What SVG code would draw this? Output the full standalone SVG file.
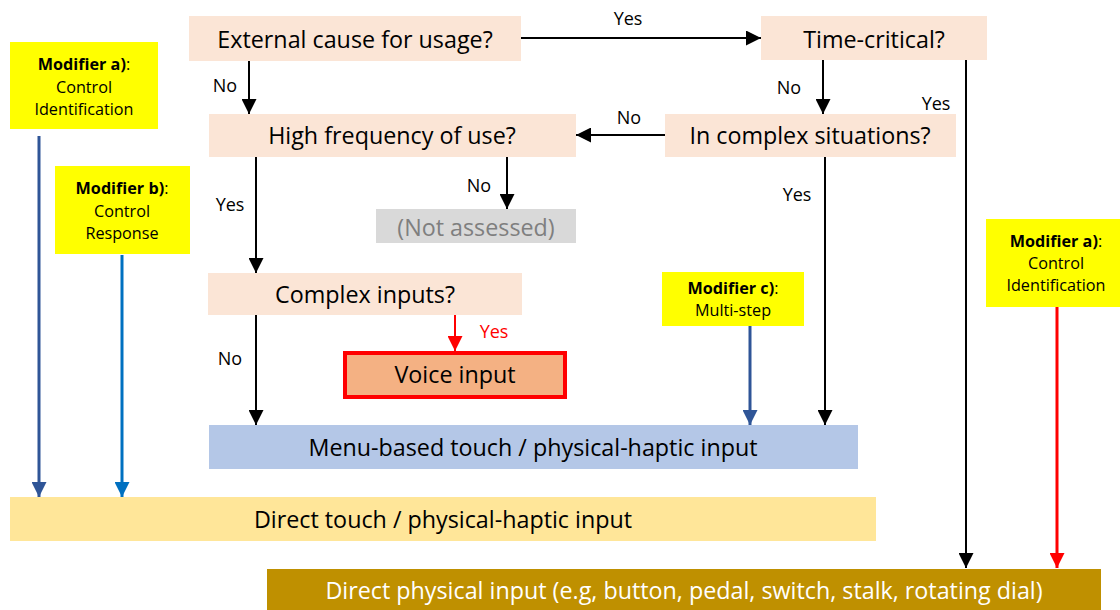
<svg xmlns="http://www.w3.org/2000/svg" width="1120" height="610" viewBox="0 0 1120 610">
<defs>
<style>
text{font-family:"Open Sans","Liberation Sans",sans-serif;fill:#000}
.q{fill:#FBE5D6}
.t{font-size:23.3px;text-anchor:middle}
.l{font-size:18px;text-anchor:middle}
.m{font-size:16.2px;text-anchor:middle}
.b{font-weight:bold}
.mod{fill:#FFFF00}
.k{stroke:#000;stroke-width:2;fill:none}
</style>
<marker id="ak" viewBox="0 0 10 10" refX="10" refY="5" markerWidth="15" markerHeight="15" markerUnits="userSpaceOnUse" orient="auto"><path d="M0,0L10,5L0,10z" fill="#000"/></marker>
<marker id="ar" viewBox="0 0 10 10" refX="10" refY="5" markerWidth="15" markerHeight="15" markerUnits="userSpaceOnUse" orient="auto"><path d="M0,0L10,5L0,10z" fill="#FF0000"/></marker>
<marker id="ad" viewBox="0 0 10 10" refX="10" refY="5" markerWidth="15" markerHeight="15" markerUnits="userSpaceOnUse" orient="auto"><path d="M0,0L10,5L0,10z" fill="#2F5597"/></marker>
<marker id="ab" viewBox="0 0 10 10" refX="10" refY="5" markerWidth="15" markerHeight="15" markerUnits="userSpaceOnUse" orient="auto"><path d="M0,0L10,5L0,10z" fill="#0070C0"/></marker>
</defs>
<rect width="1120" height="610" fill="#fff"/>

<g id="connectors">
<path class="k" d="M521,38H761" marker-end="url(#ak)"/>
<path class="k" d="M249,61V114" marker-end="url(#ak)"/>
<path class="k" d="M823,60V114" marker-end="url(#ak)"/>
<path class="k" d="M966,60V568" marker-end="url(#ak)"/>
<path class="k" d="M665,135H576" marker-end="url(#ak)"/>
<path class="k" d="M507,157V209" marker-end="url(#ak)"/>
<path class="k" d="M256,157V273" marker-end="url(#ak)"/>
<path class="k" d="M825,157V425" marker-end="url(#ak)"/>
<path class="k" d="M256,315V425" marker-end="url(#ak)"/>
<path d="M455,315V351" stroke="#FF0000" stroke-width="2" fill="none" marker-end="url(#ar)"/>
<path d="M39,136V497" stroke="#2F5597" stroke-width="3" fill="none" marker-end="url(#ad)"/>
<path d="M122,255V497" stroke="#0070C0" stroke-width="3" fill="none" marker-end="url(#ab)"/>
<path d="M750,326V425" stroke="#2F5597" stroke-width="3" fill="none" marker-end="url(#ad)"/>
<path d="M1057,307V568" stroke="#FF0000" stroke-width="3" fill="none" marker-end="url(#ar)"/>
<text class="l" x="628" y="25">Yes</text>
<text class="l" x="225" y="92">No</text>
<text class="l" x="789" y="94">No</text>
<text class="l" x="936" y="110">Yes</text>
<text class="l" x="629" y="124">No</text>
<text class="l" x="479" y="192">No</text>
<text class="l" x="230" y="211">Yes</text>
<text class="l" x="797" y="201">Yes</text>
<text class="l" x="230" y="365">No</text>
<text class="l" x="494" y="338" style="fill:#FF0000">Yes</text>
</g>

<g id="external">
<rect class="q" x="189" y="16" width="332" height="45"/>
<text class="t" x="355" y="48">External cause for usage?</text>
</g>
<g id="timecritical">
<rect class="q" x="761" y="16" width="226" height="44"/>
<text class="t" x="874" y="48">Time-critical?</text>
</g>
<g id="highfreq">
<rect class="q" x="209" y="114" width="367" height="43"/>
<text class="t" x="392" y="144">High frequency of use?</text>
</g>
<g id="complexsit">
<rect class="q" x="665" y="114" width="291" height="43"/>
<text class="t" x="810" y="144">In complex situations?</text>
</g>
<g id="notassessed">
<rect x="376" y="209" width="200" height="34" fill="#D9D9D9"/>
<text class="t" x="476" y="236" style="fill:#7F7F7F">(Not assessed)</text>
</g>
<g id="complexinputs">
<rect class="q" x="208" y="273" width="314" height="42"/>
<text class="t" x="365" y="303">Complex inputs?</text>
</g>
<g id="voice">
<rect x="345" y="353" width="220" height="44" fill="#F4B183" stroke="#FF0000" stroke-width="4"/>
<text class="t" x="455" y="383">Voice input</text>
</g>
<g id="menu">
<rect x="209" y="425" width="649" height="44" fill="#B4C7E7"/>
<text class="t" x="533" y="456">Menu-based touch / physical-haptic input</text>
</g>
<g id="directtouch">
<rect x="10" y="497" width="866" height="44" fill="#FFE699"/>
<text class="t" x="443" y="528">Direct touch / physical-haptic input</text>
</g>
<g id="directphysical">
<rect x="267" y="569" width="834" height="41" fill="#BF9000"/>
<text class="t" x="684" y="599" style="fill:#fff">Direct physical input (e.g, button, pedal, switch, stalk, rotating dial)</text>
</g>
<g id="modA1">
<rect class="mod" x="10" y="42" width="148" height="87"/>
<text class="m" x="84" y="70"><tspan class="b">Modifier a)</tspan>:</text>
<text class="m" x="84" y="93">Control</text>
<text class="m" x="84" y="115">Identification</text>
</g>
<g id="modB">
<rect class="mod" x="55" y="166" width="135" height="88"/>
<text class="m" x="122" y="194"><tspan class="b">Modifier b)</tspan>:</text>
<text class="m" x="122" y="217">Control</text>
<text class="m" x="122" y="239">Response</text>
</g>
<g id="modC">
<rect class="mod" x="662" y="272" width="142" height="54"/>
<text class="m" x="733" y="294"><tspan class="b">Modifier c)</tspan>:</text>
<text class="m" x="733" y="316">Multi-step</text>
</g>
<g id="modA2">
<rect class="mod" x="986" y="219" width="136" height="88"/>
<text class="m" x="1056" y="247"><tspan class="b">Modifier a)</tspan>:</text>
<text class="m" x="1056" y="269">Control</text>
<text class="m" x="1056" y="291">Identification</text>
</g>
</svg>
